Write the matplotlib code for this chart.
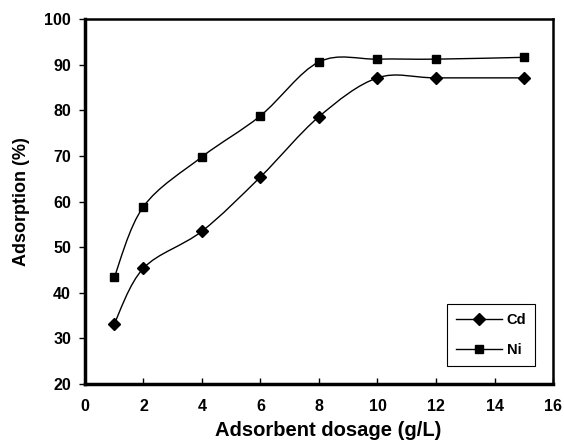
import matplotlib.pyplot as plt
from matplotlib.path import Path
from matplotlib.patches import PathPatch
from matplotlib.lines import Line2D

plt.rcParams['font.family'] = ['Liberation Sans', 'DejaVu Sans']
plt.rcParams['font.weight'] = 'bold'

dosage = [1, 2, 4, 6, 8, 10, 12, 15]
cd = [33.2, 45.4, 53.5, 65.4, 78.6, 87.1, 87.1, 87.1]
ni = [43.4, 58.9, 69.8, 78.8, 90.6, 91.2, 91.2, 91.6]


def smooth_path(x, y):
    # excel-like smoothed line: cubic bezier segments through every point
    pts = list(zip(x, y))
    n = len(pts)
    verts = [pts[0]]
    codes = [Path.MOVETO]
    for i in range(n - 1):
        p0 = pts[max(i - 1, 0)]
        p1 = pts[i]
        p2 = pts[i + 1]
        p3 = pts[min(i + 2, n - 1)]
        c1 = (p1[0] + (p2[0] - p0[0]) / 6, p1[1] + (p2[1] - p0[1]) / 6)
        c2 = (p2[0] - (p3[0] - p1[0]) / 6, p2[1] - (p3[1] - p1[1]) / 6)
        verts += [c1, c2, p2]
        codes += [Path.CURVE4] * 3
    return Path(verts, codes)


fig = plt.figure(figsize=(5.64, 4.44), dpi=100)
ax = fig.add_axes([0.1507, 0.1351, 0.8298, 0.8221])

for vals, mk, ms in [(cd, 'D', 6.5), (ni, 's', 6)]:
    ax.add_patch(PathPatch(smooth_path(dosage, vals), fill=False, lw=1, color='black'))
    ax.plot(dosage, vals, linestyle='none', marker=mk, ms=ms, color='black')

ax.set_xlim(0, 16)
ax.set_ylim(20, 100)
ax.set_xticks(range(0, 17, 2))
ax.set_yticks(range(20, 101, 10))
ax.tick_params(axis='x', direction='in', length=4, width=1, labelsize=11.5, pad=11)
ax.tick_params(axis='y', direction='out', length=4, width=1, labelsize=11.5, pad=6)
for lab in ax.get_xticklabels() + ax.get_yticklabels():
    lab.set_fontweight('bold')

ax.spines['left'].set_linewidth(2.5)
ax.spines['bottom'].set_linewidth(2.5)
ax.spines['top'].set_linewidth(1.8)
ax.spines['right'].set_linewidth(1.8)

ax.set_xlabel('Adsorbent dosage (g/L)', fontsize=14.5, fontweight='bold', labelpad=5)
ax.xaxis.label.set_x(0.52)
ax.set_ylabel('Adsorption (%)', fontsize=13, fontweight='bold', labelpad=10)

handles = [Line2D([], [], color='black', lw=1, marker='D', ms=6),
           Line2D([], [], color='black', lw=1, marker='s', ms=6)]
leg = ax.legend(handles, ['Cd', 'Ni'], loc='lower right', bbox_to_anchor=(0.962, 0.05),
                fancybox=False, edgecolor='black', framealpha=1, handlelength=3.2,
                fontsize=10.5, borderpad=0.6, labelspacing=1.1, handletextpad=0.3,
                borderaxespad=0)
leg.get_frame().set_linewidth(0.8)
for t in leg.get_texts():
    t.set_fontweight('bold')

fig.savefig('out.png', dpi=100)
